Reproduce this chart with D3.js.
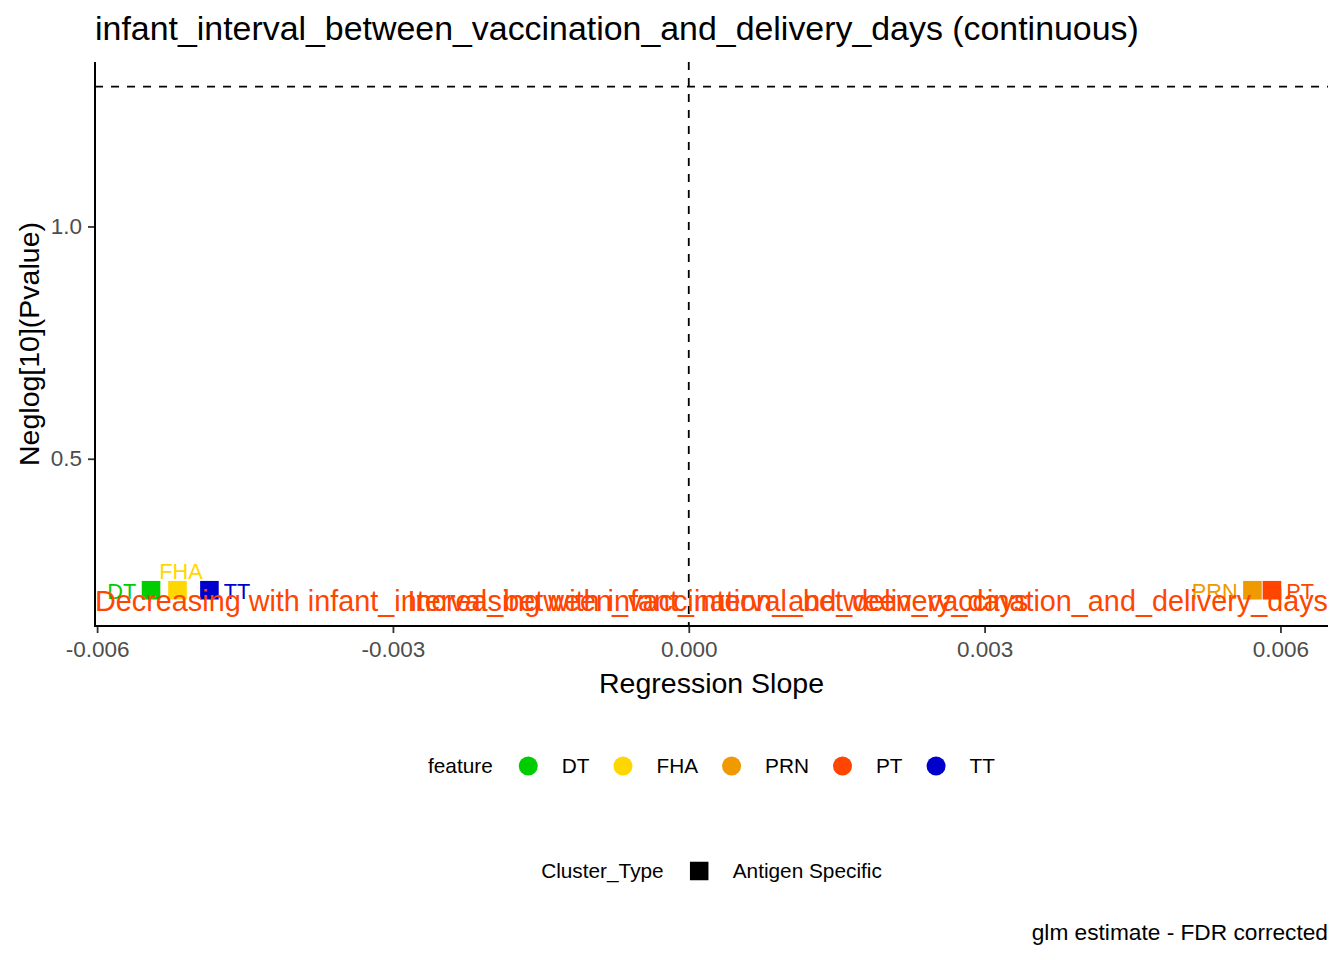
<!DOCTYPE html>
<html><head><meta charset="utf-8">
<script src="https://cdn.jsdelivr.net/npm/d3@7"></script>
<style>
body{margin:0;background:#fff}
text{font-family:"Liberation Sans",Arial,sans-serif}
</style>
</head><body>
<svg id="chart" width="1344" height="960"></svg>
<script>
// ---- data ----
const features = ["DT", "FHA", "PRN", "PT", "TT"];
const featureColors = ["#00CD00", "#FFD700", "#EE9A00", "#FF4500", "#0000CD"];
const slopes = [-0.005453, -0.005185, 0.005716, 0.005914, -0.004861];
const negLogP = [0.217, 0.217, 0.217, 0.217, 0.217];
const labelSides = ["left", "top", "left", "right", "right"];
const clusterTypes = ["Antigen Specific"];
const xTicks = [-0.006, -0.003, 0, 0.003, 0.006];
const yTicks = [0.5, 1.0];
const yLimits = [0.140, 1.354];
const pThreshold = 1.30103;
const annotationTexts = [
  "Decreasing with infant_interval_between_vaccination_and_delivery_days",
  "Increasing with infant_interval_between_vaccination_and_delivery_days"
];
const annotationY = 0.2;
const titleText = "infant_interval_between_vaccination_and_delivery_days (continuous)";
const captionText = "glm estimate - FDR corrected";
const xTitle = "Regression Slope";
const yTitle = "Neglog[10](Pvalue)";

// ---- layout ----
const P = {left: 95, right: 1328, top: 62, bottom: 626};
const svg = d3.select("#chart");

const ext = d3.extent(slopes);
const pad = (ext[1] - ext[0]) * 0.05;
const x = d3.scaleLinear().domain([ext[0] - pad, ext[1] + pad]).range([P.left, P.right]);
const y = d3.scaleLinear().domain(yLimits).range([P.bottom, P.top]);

const points = features.map((f, i) => ({f, c: featureColors[i], x: slopes[i], y: negLogP[i], side: labelSides[i]}));

// reference lines
svg.append("line")
  .attr("x1", P.left).attr("x2", P.right)
  .attr("y1", y(pThreshold)).attr("y2", y(pThreshold))
  .attr("stroke", "#000").attr("stroke-width", 1.8).attr("stroke-dasharray", "8,8");
svg.append("line")
  .attr("x1", x(0)).attr("x2", x(0))
  .attr("y1", P.top).attr("y2", P.bottom)
  .attr("stroke", "#000").attr("stroke-width", 1.8).attr("stroke-dasharray", "8,8");

// points
const sq = 18.6;
svg.append("g").selectAll("rect").data(points).join("rect")
  .attr("x", d => x(d.x) - sq / 2).attr("y", d => y(d.y) - sq / 2)
  .attr("width", sq).attr("height", sq).attr("fill", d => d.c);

// point labels
svg.append("g").selectAll("text").data(points).join("text")
  .attr("font-size", 21.7)
  .attr("fill", d => d.c)
  .attr("text-anchor", d => d.side === "left" ? "end" : d.side === "right" ? "start" : "middle")
  .attr("x", d => d.side === "left" ? x(d.x) - sq / 2 - 5.5 : d.side === "right" ? x(d.x) + sq / 2 + 5 : x(d.x) + 3.5)
  .attr("y", d => d.side === "top" ? y(d.y) - sq / 2 - 2 : y(d.y) + 8.5)
  .text(d => d.f);

// annotations
svg.append("text")
  .attr("x", P.left).attr("y", y(annotationY)).attr("dy", "0.45em")
  .attr("font-size", 28.8).attr("fill", "#FF4500").attr("text-anchor", "start")
  .text(annotationTexts[0]);
svg.append("text")
  .attr("x", P.right).attr("y", y(annotationY)).attr("dy", "0.45em")
  .attr("font-size", 28.8).attr("fill", "#FF4500").attr("text-anchor", "end")
  .text(annotationTexts[1]);

// axes
const fmt3 = d3.format(".3f");
const hyphen = s => s.replace("\u2212", "-");
const xAxis = svg.append("g").attr("transform", `translate(0,${P.bottom})`)
  .call(d3.axisBottom(x).tickValues(xTicks).tickFormat(d => hyphen(fmt3(d))).tickSize(7).tickPadding(8));
const yAxis = svg.append("g").attr("transform", `translate(${P.left},0)`)
  .call(d3.axisLeft(y).tickValues(yTicks).tickFormat(d => hyphen(d3.format(".1f")(d))).tickSize(7).tickPadding(6));
[xAxis, yAxis].forEach(g => {
  g.select(".domain").remove();
  g.selectAll(".tick line").attr("stroke", "#333").attr("stroke-width", 1.8);
  g.selectAll(".tick text").attr("fill", "#4D4D4D").attr("font-size", 22.5)
    .attr("font-family", '"Liberation Sans",Arial,sans-serif');
});
xAxis.selectAll(".tick text").attr("dy", "0.71em");
svg.append("line").attr("x1", P.left - 1).attr("x2", P.right).attr("y1", P.bottom).attr("y2", P.bottom)
  .attr("stroke", "#000").attr("stroke-width", 2);
svg.append("line").attr("x1", P.left).attr("x2", P.left).attr("y1", P.top).attr("y2", P.bottom + 1)
  .attr("stroke", "#000").attr("stroke-width", 2);

// titles
svg.append("text").attr("x", P.left).attr("y", 39.5).attr("font-size", 33.9).attr("fill", "#000").text(titleText);
svg.append("text").attr("x", (P.left + P.right) / 2).attr("y", 693).attr("text-anchor", "middle")
  .attr("font-size", 28.5).attr("fill", "#000").text(xTitle);
svg.append("text").attr("transform", `translate(39,${(P.top + P.bottom) / 2}) rotate(-90)`)
  .attr("text-anchor", "middle").attr("font-size", 28.5).attr("fill", "#000").text(yTitle);
svg.append("text").attr("x", P.right).attr("y", 940).attr("text-anchor", "end")
  .attr("font-size", 22.7).attr("fill", "#000").text(captionText);

// legends
const legFS = 20.8, keyW = 19, gapTitle = 26, gapKeyLab = 24, gapLabKey = 24;
function textW(s) {
  const t = svg.append("text").attr("font-size", legFS).text(s);
  const w = t.node().getComputedTextLength(); t.remove(); return w;
}
function drawLegend(title, labels, colors, cy, shape) {
  const tw = textW(title);
  const lw = labels.map(textW);
  const total = tw + gapTitle + labels.length * (keyW + gapKeyLab) + d3.sum(lw) + (labels.length - 1) * gapLabKey;
  let cx = (P.left + P.right) / 2 - total / 2;
  const g = svg.append("g");
  g.append("text").attr("x", cx).attr("y", cy).attr("dy", "0.36em").attr("font-size", legFS).text(title);
  cx += tw + gapTitle;
  labels.forEach((l, i) => {
    if (shape === "circle") {
      g.append("circle").attr("cx", cx + keyW / 2).attr("cy", cy).attr("r", 9.5).attr("fill", colors[i]);
    } else {
      g.append("rect").attr("x", cx + 0.25).attr("y", cy - 9.25).attr("width", 18.5).attr("height", 18.5).attr("fill", colors[i]);
    }
    cx += keyW + gapKeyLab;
    g.append("text").attr("x", cx).attr("y", cy).attr("dy", "0.36em").attr("font-size", legFS).text(l);
    cx += lw[i] + gapLabKey;
  });
}
drawLegend("feature", features, featureColors, 766, "circle");
drawLegend("Cluster_Type", clusterTypes, ["#000"], 871, "square");
</script>
</body></html>
